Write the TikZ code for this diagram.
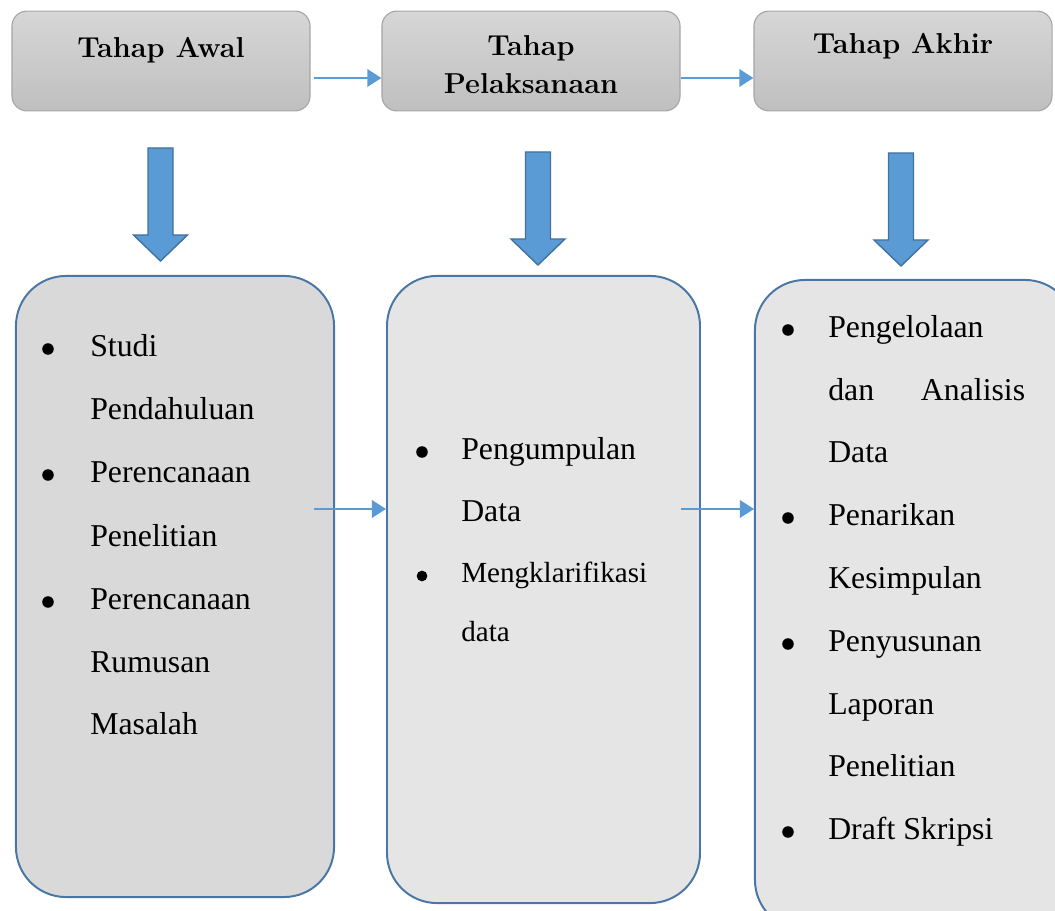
\documentclass[tikz,border=0pt]{standalone}
\usepackage{fontspec}
\newfontfamily\listfont{Liberation Serif}
\usetikzlibrary{arrows.meta}

\definecolor{flowblue}{HTML}{5B9BD5}
\definecolor{blockedge}{HTML}{41719C}
\definecolor{listedge}{HTML}{4A76A6}

\tikzset{
  phasebox/.style={draw=black!35, line width=0.8pt, rounded corners=10.7pt,
    top color=black!16, bottom color=black!25, minimum width=212pt, minimum height=71pt},
  phasetitle/.style={font=\fontsize{20.5}{27}\selectfont\bfseries, align=center, inner sep=0pt},
  listbox/.style={draw=listedge, line width=1.4pt, rounded corners=35.6pt},
  itemtext/.style={font=\listfont\fontsize{22.6}{27}\selectfont, anchor=base west, inner sep=0pt},
  itemdot/.style={circle, fill=black, inner sep=0pt, minimum size=8.2pt},
  flow/.style={draw=flowblue, line width=1.3pt, -{Triangle[length=10pt,width=12.5pt]}},
  blockdown/.pic={
    \draw[fill=flowblue, draw=blockedge, line width=1pt]
      (-12.5,0) -- (12.5,0) -- (12.5,87) -- (27,87) -- (0,113) -- (-27,87) -- (-12.5,87) -- cycle;
  }
}

\begin{document}
\begin{tikzpicture}[x=0.025cm, y=-0.025cm]
  \useasboundingbox (0,0) rectangle (1055,911);

  % top row
  \node (awal) [phasebox] at (161,61) {};
  \node (pelak) [phasebox] at (531,61) {};
  \node (akhir) [phasebox] at (903,61) {};
  \node (awalT) [phasetitle] at (161,50) {Tahap Awal};
  \node (pelakT) [phasetitle] at (531,65) {Tahap\\Pelaksanaan};
  \node (akhirT) [phasetitle] at (903,46) {Tahap Akhir};

  \draw[flow] ([shift={(3,17)}]awal.east) -- ([shift={(0,17)}]pelak.west);
  \draw[flow] ([shift={(0,17)}]pelak.east) -- ([shift={(0,17)}]akhir.west);

  % block arrows
  \pic at (160.5,148) {blockdown};
  \pic at (538,152) {blockdown};
  \pic at (901,153) {blockdown};

  % bottom row
  \node (listA) [listbox, fill=black!15, minimum width=226.2pt, minimum height=441.7pt] at (175,586.5) {};
  \node (listB) [listbox, fill=black!10, minimum width=222.6pt, minimum height=446pt] at (543.5,589.5) {};
  \node (listC) [listbox, fill=black!10, minimum width=227.6pt, minimum height=462.3pt] at (915,605) {};

  \draw[flow] ([shift={(-21,-77.5)}]listA.east) -- ([shift={(0,-80.5)}]listB.west);
  \draw[flow] ([shift={(-20,-80.5)}]listB.east) -- ([shift={(0,-96)}]listC.west);

  % list texts
  \foreach \yy/\isb/\txt [count=\i] in {357/1/Studi, 420/0/Pendahuluan, 483/1/Perencanaan,
      547/0/Penelitian, 610/1/Perencanaan, 673/0/Rumusan, 735/0/Masalah}{
    \ifnum\isb=1 \node (dotA\i) [itemdot] at (48,\yy-8) {};\fi
    \node (itemA\i) [itemtext] at (90,\yy) {\txt};
  }
  \foreach \yy/\isb/\txt [count=\i] in {460/1/Pengumpulan, 522/0/Data}{
    \ifnum\isb=1 \node (dotB\i) [itemdot] at (422,\yy-8) {};\fi
    \node (itemB\i) [itemtext] at (461,\yy) {\txt};
  }
  \node (dotB3) [itemdot, minimum size=7.6pt] at (422,576) {};
  \node (itemB3) [itemtext, font=\listfont\fontsize{20.7}{25}\selectfont] at (461,583) {Mengklarifikasi};
  \node (itemB4) [itemtext, font=\listfont\fontsize{20.7}{25}\selectfont] at (461,642) {data};
  \foreach \yy/\isb/\txt [count=\i] in {338/1/Pengelolaan, 401/0/{\makebox[140pt][s]{dan Analisis}},
      463/0/Data, 526/1/Penarikan, 589/0/Kesimpulan, 652/1/Penyusunan, 715/0/Laporan,
      777/0/Penelitian, 840/1/Draft Skripsi}{
    \ifnum\isb=1 \node (dotC\i) [itemdot] at (788,\yy-8) {};\fi
    \node (itemC\i) [itemtext] at (828,\yy) {\txt};
  }
\end{tikzpicture}
\end{document}
